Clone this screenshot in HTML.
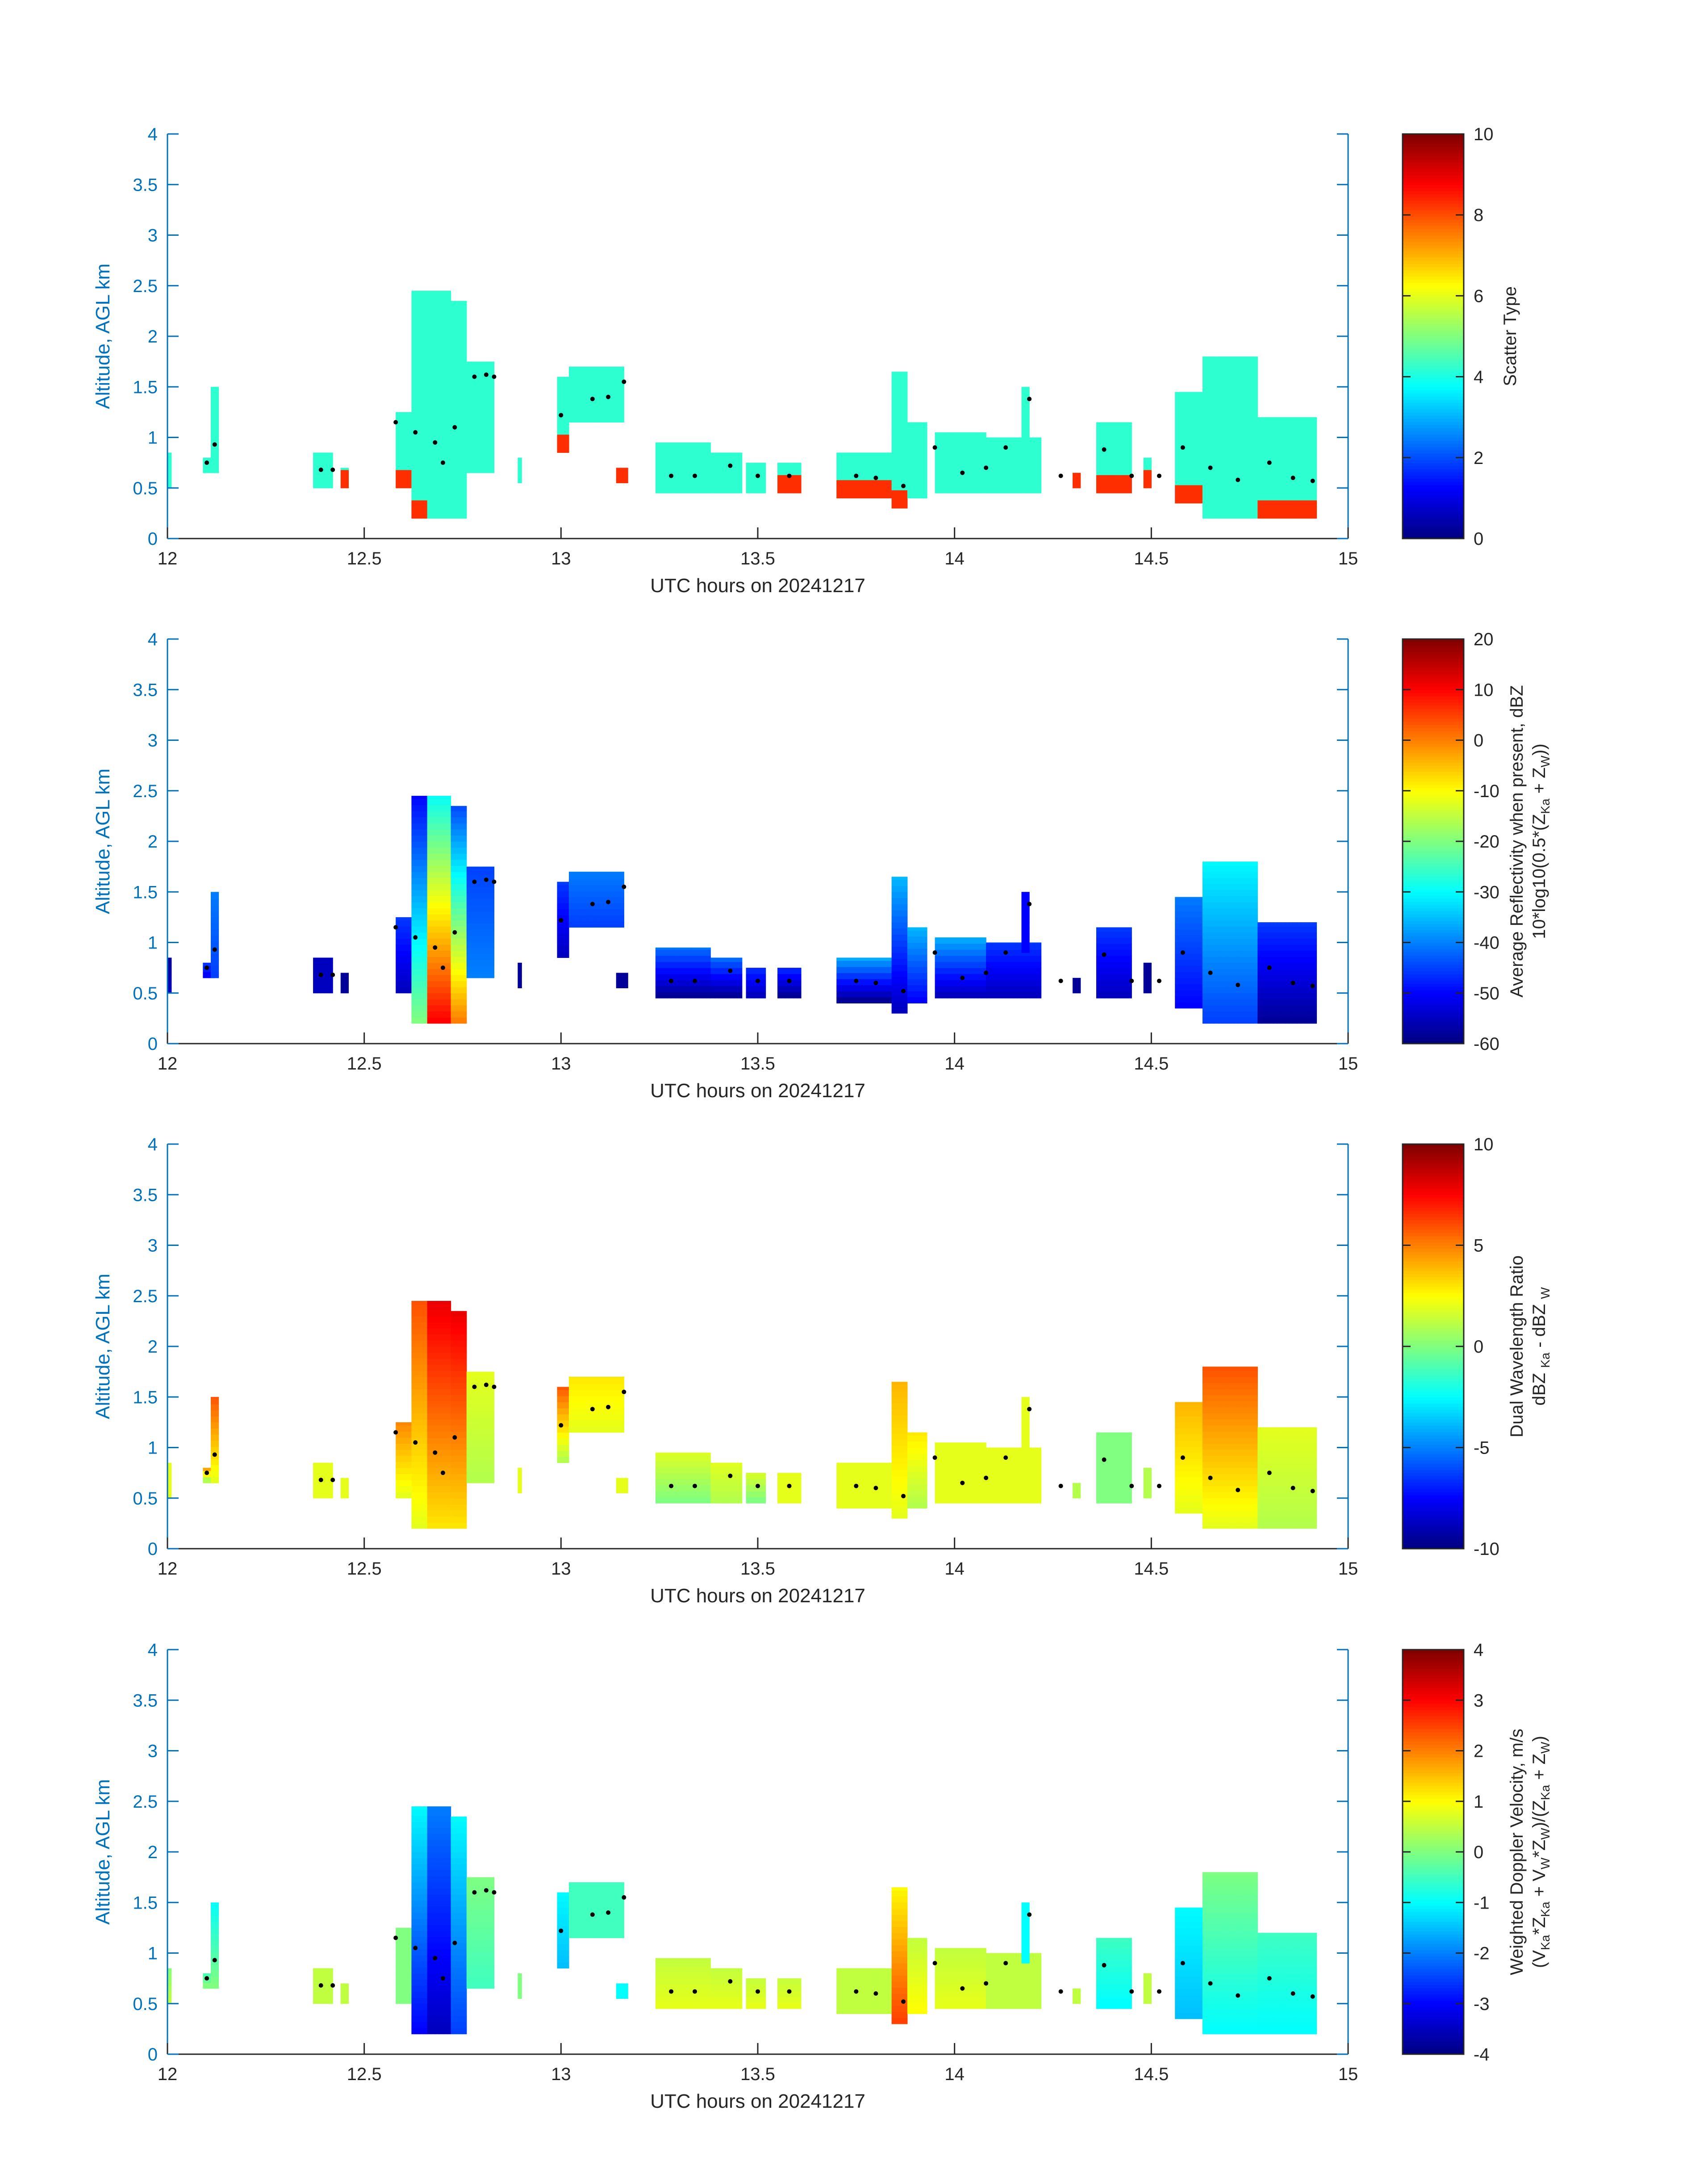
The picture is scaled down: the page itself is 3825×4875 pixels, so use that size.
<!DOCTYPE html>
<html><head><meta charset="utf-8"><style>
html,body{margin:0;padding:0;background:#fff;}
svg{display:block;font-family:"Liberation Sans","DejaVu Sans",sans-serif;}
</style></head><body>
<svg id="fig" width="3825" height="4875" viewBox="0 0 3825 4875" xmlns="http://www.w3.org/2000/svg"></svg>
<script>
// ---- data ----
const xTicks = [12, 12.5, 13, 13.5, 14, 14.5, 15];
const yTicks = [0, 0.5, 1, 1.5, 2, 2.5, 3, 3.5, 4];
// echo blocks: start hour, end hour, bottom km, top km
const blockT0 = [12.00,12.09,12.11,12.37,12.44,12.58,12.62,12.66,12.72,12.76,12.89,12.99,13.02,13.14,13.24,13.38,13.47,13.55,13.70,13.84,13.88,13.95,14.08,14.17,14.30,14.36,14.48,14.56,14.63,14.77];
const blockT1 = [12.01,12.12,12.13,12.42,12.46,12.62,12.66,12.72,12.76,12.83,12.90,13.02,13.16,13.17,13.38,13.46,13.52,13.61,13.84,13.88,13.93,14.08,14.22,14.19,14.32,14.45,14.50,14.63,14.77,14.92];
const blockZ0 = [0.50,0.65,0.65,0.50,0.50,0.50,0.20,0.20,0.20,0.65,0.55,0.85,1.15,0.55,0.45,0.45,0.45,0.45,0.40,0.30,0.40,0.45,0.45,0.90,0.50,0.45,0.50,0.35,0.20,0.20];
const blockZ1 = [0.85,0.80,1.50,0.85,0.70,1.25,2.45,2.45,2.35,1.75,0.80,1.60,1.70,0.70,0.95,0.85,0.75,0.75,0.85,1.65,1.15,1.05,1.00,1.50,0.65,1.15,0.80,1.45,1.80,1.20];
// values per panel at block bottom / top
const p1Bot = [4.2,4.2,4.2,4.2,8.3,8.3,8.3,4.2,4.2,4.2,4.2,8.3,4.2,8.3,4.2,4.2,4.2,8.3,8.3,8.3,4.2,4.2,4.2,4.2,8.3,8.3,8.3,8.3,4.2,8.3];
const p1Top = [4.2,4.2,4.2,4.2,4.2,4.2,4.2,4.2,4.2,4.2,4.2,4.2,4.2,4.2,4.2,4.2,4.2,4.2,4.2,4.2,4.2,4.2,4.2,4.2,4.2,4.2,4.2,4.2,4.2,4.2];
const p2Bot = [-55,-50,-45,-55,-58,-55,-20,10,0,-40,-58,-55,-45,-58,-58,-58,-55,-58,-58,-55,-50,-55,-55,-50,-58,-55,-58,-50,-45,-58];
const p2Top = [-58,-45,-40,-55,-58,-45,-50,-30,-45,-45,-58,-45,-40,-58,-40,-40,-45,-45,-35,-35,-35,-35,-45,-50,-58,-45,-58,-40,-30,-45];
const p3Bot = [2,1,2,2,2,2,2,3,3,1,2,1,2,2,0,1,0,2,2,2,1,2,2,2,1,0,1,2,2,1];
const p3Top = [2,5,6,2,2,5,6,8,8,2,2,6,3,2,2,2,2,2,2,4,3,2,2,2,1,0,1,4,6,2];
const p4Bot = [0.5,0,0,0.5,0.5,0,-3,-3.5,-2.5,-0.5,0,-1.5,-0.5,-1,0.8,0.8,0.8,0.8,0.5,2.5,1,0.8,0.5,-1,0.5,-1,0.5,-1.5,-1,-1];
const p4Top = [0,-0.5,-1,0.5,0.5,0,-1,-2,-1,0,0,-1,-0.5,-1,0.5,0.5,0.5,0.5,0.5,1,0.5,0.5,0.5,-1,0.5,-0.5,0.5,-1,0,-0.5];
// mean altitude dots
const dotT = [12.10,12.12,12.39,12.42,12.58,12.63,12.68,12.70,12.73,12.78,12.81,12.83,13.00,13.08,13.12,13.16,13.28,13.34,13.43,13.50,13.58,13.75,13.80,13.87,13.95,14.02,14.08,14.13,14.19,14.27,14.38,14.45,14.52,14.58,14.65,14.72,14.80,14.86,14.91];
const dotZ = [0.75,0.93,0.68,0.68,1.15,1.05,0.95,0.75,1.10,1.60,1.62,1.60,1.22,1.38,1.40,1.55,0.62,0.62,0.72,0.62,0.62,0.62,0.60,0.52,0.90,0.65,0.70,0.90,1.38,0.62,0.88,0.62,0.62,0.90,0.70,0.58,0.75,0.60,0.57];
const cbRanges = [[0,10],[-60,20],[-10,10],[-4,4]];
const cbTicks1 = [0,2,4,6,8,10];
const cbTicks2 = [-60,-50,-40,-30,-20,-10,0,10,20];
const cbTicks3 = [-10,-5,0,5,10];
const cbTicks4 = [-4,-3,-2,-1,0,1,2,3,4];
// ---- layout ----
const NS="http://www.w3.org/2000/svg";
const svg=document.getElementById('fig');
const L=375,R=3019,H=906;
const tops=[300,1431,2562,3694];
const CBX=3141,CBW=137;
function el(tag,attrs,parent){const e=document.createElementNS(NS,tag);for(const k in attrs)e.setAttribute(k,attrs[k]);(parent||svg).appendChild(e);return e;}
function jet(v){v=Math.max(0,Math.min(1,v));const r=Math.max(0,Math.min(1,1.5-Math.abs(4*v-3))),g=Math.max(0,Math.min(1,1.5-Math.abs(4*v-2))),b=Math.max(0,Math.min(1,1.5-Math.abs(4*v-1)));return `rgb(${Math.round(r*255)},${Math.round(g*255)},${Math.round(b*255)})`;}
const panelBot=[p1Bot,p2Bot,p3Bot,p4Bot], panelTop=[p1Top,p2Top,p3Top,p4Top];
const cbTicks=[cbTicks1,cbTicks2,cbTicks3,cbTicks4];
const cbLabels=[["Scatter Type"],["Average Reflectivity when present, dBZ","10*log10(0.5*(Z<tspan font-size='28' dy='10'>Ka</tspan><tspan dy='-10'> + Z</tspan><tspan font-size='28' dy='10'>W</tspan><tspan dy='-10'>))</tspan>"],["Dual Wavelength Ratio","dBZ <tspan font-size='28' dy='10'>Ka</tspan><tspan dy='-10'> - dBZ </tspan><tspan font-size='28' dy='10'>W</tspan>"],["Weighted Doppler Velocity, m/s","(V<tspan font-size='28' dy='10'>Ka</tspan><tspan dy='-10'>*Z</tspan><tspan font-size='28' dy='10'>Ka</tspan><tspan dy='-10'> + V</tspan><tspan font-size='28' dy='10'>W</tspan><tspan dy='-10'>*Z</tspan><tspan font-size='28' dy='10'>W</tspan><tspan dy='-10'>)/(Z</tspan><tspan font-size='28' dy='10'>Ka</tspan><tspan dy='-10'> + Z</tspan><tspan font-size='28' dy='10'>W</tspan><tspan dy='-10'>)</tspan>"]];
const DT=0.01, DZ=0.06;
for(let p=0;p<4;p++){
  const T=tops[p];
  const xs=h=>L+(h-12)/3*(R-L);
  const ys=z=>T+H-z/4*H;
  const [vmin,vmax]=cbRanges[p];
  const g=el('g',{});  
  const cells=el('g',{},g);
   
  for(let b=0;b<blockT0.length;b++){
    for(let t=blockT0[b];t<blockT1[b]-1e-6;t+=DT){
      for(let z=blockZ0[b];z<blockZ1[b]-1e-6;z+=DZ){
        const f=(z-blockZ0[b])/Math.max(0.01,blockZ1[b]-blockZ0[b]);
        let v;
        if(p===0){ v = (z-blockZ0[b] < 0.15) ? panelBot[p][b] : panelTop[p][b]; }
        else { v=panelBot[p][b]+(panelTop[p][b]-panelBot[p][b])*f; }
        const r=el('rect',{x:xs(t),y:ys(Math.min(z+DZ,blockZ1[b])),width:xs(t+DT)-xs(t)+0.6,height:ys(z)-ys(Math.min(z+DZ,blockZ1[b]))+0.6,fill:jet((v-vmin)/(vmax-vmin))},cells);
         
      }
    }
  }
  for(let i=0;i<dotT.length;i++){
    const d=el('circle',{cx:xs(dotT[i]),cy:ys(dotZ[i]),r:5,fill:'#000'},g);
     
  }
  // axes
  const ax=el('g',{stroke:'#0072bd','stroke-width':3,fill:'none'},g);
   
  el('line',{x1:L,y1:T,x2:L,y2:T+H},ax); el('line',{x1:R,y1:T,x2:R,y2:T+H},ax);
  el('line',{x1:L,y1:T+H,x2:R,y2:T+H,stroke:'#262626'},ax);
  for(const tk of xTicks){
    el('line',{x1:xs(tk),y1:T+H,x2:xs(tk),y2:T+H-25,stroke:'#262626'},ax);
    const tx=el('text',{x:xs(tk),y:T+H+58,'text-anchor':'middle','font-size':40,fill:'#262626'},g);
    tx.textContent=String(tk);  
  }
  for(const tk of yTicks){
    el('line',{x1:L,y1:ys(tk),x2:L+25,y2:ys(tk)},ax);
    el('line',{x1:R,y1:ys(tk),x2:R-25,y2:ys(tk)},ax);
    const tx=el('text',{x:L-22,y:ys(tk)+14,'text-anchor':'end','font-size':40,fill:'#0072bd'},g);
    tx.textContent=String(tk);  
  }
  const xl=el('text',{x:(L+R)/2,y:T+H+120,'text-anchor':'middle','font-size':44,fill:'#262626'},g);
  xl.textContent='UTC hours on 20241217';  
  const yl=el('text',{x:0,y:0,'text-anchor':'middle','font-size':44,fill:'#0072bd',transform:`translate(245,${T+H/2}) rotate(-90)`},g);
  yl.textContent='Altitude, AGL km';  
  // colorbar
  const cb=el('g',{},g);  
  const N=128;
  for(let i=0;i<N;i++){
    el('rect',{x:CBX,y:T+H-(i+1)*H/N,width:CBW,height:H/N+0.8,fill:jet((i+0.5)/N)},cb);
  }
  el('rect',{x:CBX,y:T,width:CBW,height:H,fill:'none',stroke:'#262626','stroke-width':3},cb);
  for(const tk of cbTicks[p]){
    const y=T+H-(tk-vmin)/(vmax-vmin)*H;
    el('line',{x1:CBX,y1:y,x2:CBX+18,y2:y,stroke:'#262626','stroke-width':3},cb);
    el('line',{x1:CBX+CBW,y1:y,x2:CBX+CBW-18,y2:y,stroke:'#262626','stroke-width':3},cb);
    const tx=el('text',{x:CBX+CBW+22,y:y+14,'font-size':40,fill:'#262626'},cb);
    tx.textContent=String(tk);  
  }
  const labs=cbLabels[p];
  labs.forEach((s,i)=>{
    const xx = labs.length===1 ? 3395 : 3410+i*50;
    const tx=el('text',{x:0,y:0,'text-anchor':'middle','font-size':40,fill:'#262626',transform:`translate(${xx},${T+H/2}) rotate(-90)`},cb);
    tx.innerHTML=s;  
  });
}
</script>
</body></html>
